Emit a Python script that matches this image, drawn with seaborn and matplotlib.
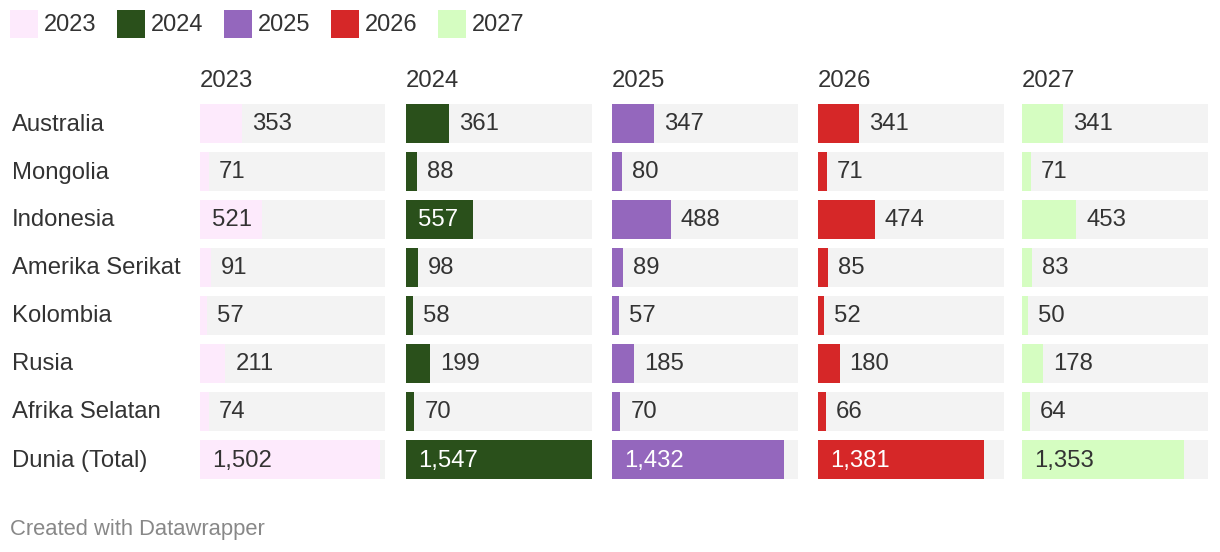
import matplotlib
matplotlib.use("Agg")
import matplotlib.pyplot as plt
import seaborn as sns
import pandas as pd
from matplotlib.patches import Rectangle

sns.set_theme(style="white")
plt.rcParams['font.family'] = ['Liberation Sans', 'DejaVu Sans']

countries = ["Australia", "Mongolia", "Indonesia", "Amerika Serikat", "Kolombia",
             "Rusia", "Afrika Selatan", "Dunia (Total)"]
years = ["2023", "2024", "2025", "2026", "2027"]
v2023 = [353, 71, 521, 91, 57, 211, 74, 1502]
v2024 = [361, 88, 557, 98, 58, 199, 70, 1547]
v2025 = [347, 80, 488, 89, 57, 185, 70, 1432]
v2026 = [341, 71, 474, 85, 52, 180, 66, 1381]
v2027 = [341, 71, 453, 83, 50, 178, 64, 1353]
series = [v2023, v2024, v2025, v2026, v2027]

colors = ["#fdeafc", "#2a501b", "#9467bd", "#d62728", "#d5fdc1"]
inside_text = ["#333333", "#ffffff", "#ffffff", "#ffffff", "#333333"]
TRACK = "#f3f3f3"
TXT = "#333333"
FS = 17.2

W, H = 1220, 552
fig = plt.figure(figsize=(W / 100, H / 100), dpi=100)
fig.patch.set_facecolor("white")

vmax = max(max(s) for s in series)

def fx(px):
    return px / W

def fy(py):
    return 1 - py / H

col_x0 = [200, 406, 612, 818, 1022]
col_w = 185.5
top, bottom = 99.5, 483.5

renderer = fig.canvas.get_renderer()

for i, (yr, vals) in enumerate(zip(years, series)):
    ax = fig.add_axes([fx(col_x0[i]), fy(bottom), fx(col_w), (bottom - top) / H])
    df = pd.DataFrame({"country": countries, "value": vals, "track": [vmax] * len(vals)})
    sns.barplot(data=df, x="track", y="country", color=TRACK, saturation=1,
                width=0.81, ax=ax, orient="h")
    sns.barplot(data=df, x="value", y="country", color=colors[i], saturation=1,
                width=0.81, ax=ax, orient="h")
    ax.set_xlim(0, vmax)
    ax.set_ylim(len(countries) - 0.5, -0.5)
    ax.axis("off")
    for p in ax.patches:
        p.set_edgecolor("none")
        p.set_linewidth(0)
    for j, v in enumerate(vals):
        label = f"{v:,}"
        t = ax.annotate(label, xy=(v, j), xytext=(10, -1), textcoords="offset pixels",
                        ha="left", va="center", fontsize=FS, color=TXT)
        tw = t.get_window_extent(renderer=renderer).width
        bar_px = v / vmax * col_w
        if tw + 20 < bar_px:
            t.remove()
            ax.annotate(label, xy=(0, j), xytext=(12, -1), textcoords="offset pixels",
                        ha="left", va="center", fontsize=FS, color=inside_text[i])
    fig.text(fx(col_x0[i]), fy(81), yr, ha="left", va="center", fontsize=FS, color=TXT)

# row labels
for j, c in enumerate(countries):
    fig.text(fx(12), fy(top + 25 + 48 * j), c, ha="left", va="center", fontsize=FS, color=TXT)

# legend
lx = 10
for i, yr in enumerate(years):
    fig.patches.append(Rectangle((fx(lx), fy(38)), fx(27.5), 28 / H, transform=fig.transFigure,
                                 facecolor=colors[i], edgecolor="none"))
    t = fig.text(fx(lx + 34), fy(25), yr, ha="left", va="center", fontsize=17, color=TXT)
    tw = t.get_window_extent(renderer=renderer).width
    lx = lx + 34 + tw + 20.5

fig.text(fx(10), fy(529), "Created with Datawrapper", ha="left", va="center",
         fontsize=15.8, color="#888888")

fig.savefig("out.png", dpi=100, facecolor="white")
